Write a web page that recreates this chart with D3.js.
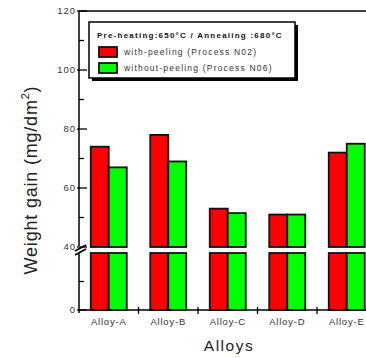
<!DOCTYPE html>
<html><head><meta charset="utf-8">
<script src="https://cdn.jsdelivr.net/npm/d3@7"></script>
<style>
body{margin:0;background:#fff;}
svg{display:block;font-family:"Liberation Sans",Arial,sans-serif;}
</style></head>
<body><svg id="c" width="366" height="358"></svg>
<script>
const categories = ["Alloy-A","Alloy-B","Alloy-C","Alloy-D","Alloy-E"];
const seriesNames = ["with-peeling (Process N02)","without-peeling (Process N06)"];
const withPeeling = [74, 78, 53, 51, 72];
const withoutPeeling = [67, 69, 51.5, 51, 75];
const upperMajor = [40, 60, 80, 100, 120];
const upperMinor = [50, 70, 90, 110];
const lowerMajor = [0];
const lowerMinor = [20];
const legendTitle = "Pre-heating:650\u00B0C / Annealing :680\u00B0C";
const yTitle = "Weight gain (mg/dm";
const xTitle = "Alloys";
const colors = ["#ff0000", "#00ff00"];

const svg = d3.select("#c");
const x0 = 79, xEnd = 366;
const x = d3.scaleBand().domain(categories).range([x0, x0 + 5 * 59.5]).padding(0);
const yU = d3.scaleLinear().domain([40, 120]).range([247, 11]);
const yL = d3.scaleLinear().domain([0, 40]).range([310, 253]);
const barW = 18;
const series = [withPeeling, withoutPeeling];

// bars
series.forEach((vals, si) => {
  const g = svg.append("g");
  categories.forEach((c, i) => {
    const bx = x(c) + x.bandwidth() / 2 - barW + si * barW;
    g.append("rect").attr("x", bx).attr("y", yU(vals[i]))
      .attr("width", barW).attr("height", yU(40) - yU(vals[i]))
      .attr("fill", colors[si]).attr("stroke", "#111").attr("stroke-width", 1.8);
    g.append("rect").attr("x", bx).attr("y", yL(40))
      .attr("width", barW).attr("height", yL(0) - yL(40))
      .attr("fill", colors[si]).attr("stroke", "#111").attr("stroke-width", 1.8);
  });
});

// frame top line
svg.append("line").attr("x1", x0).attr("x2", xEnd).attr("y1", yU(120)).attr("y2", yU(120))
  .attr("stroke", "#000").attr("stroke-width", 1.5);
// y axis segments
svg.append("line").attr("x1", x0).attr("x2", x0).attr("y1", yU(120)).attr("y2", 246)
  .attr("stroke", "#000").attr("stroke-width", 1.5);
svg.append("line").attr("x1", x0).attr("x2", x0).attr("y1", 253).attr("y2", 313)
  .attr("stroke", "#000").attr("stroke-width", 1.5);
// x axis
svg.append("line").attr("x1", x0).attr("x2", xEnd).attr("y1", yL(0)).attr("y2", yL(0))
  .attr("stroke", "#000").attr("stroke-width", 1.5);
// break marks
[0, 4].forEach(d => {
  svg.append("line").attr("x1", 75).attr("y1", 251 + d).attr("x2", 86).attr("y2", 245 + d)
    .attr("stroke", "#000").attr("stroke-width", 1.8);
});

// y ticks
function ticks(scale, major, minor) {
  major.forEach(v => {
    svg.append("line").attr("x1", x0 - 2).attr("x2", x0 + 8).attr("y1", scale(v)).attr("y2", scale(v))
      .attr("stroke", "#000").attr("stroke-width", 1.3);
    svg.append("text").attr("x", x0 - 3).attr("y", scale(v)).attr("dy", "0.35em")
      .attr("text-anchor", "end").attr("font-size", 9.5).attr("letter-spacing", 1)
      .attr("fill", "#333").text(v);
  });
  minor.forEach(v => {
    svg.append("line").attr("x1", x0).attr("x2", x0 + 5).attr("y1", scale(v)).attr("y2", scale(v))
      .attr("stroke", "#000").attr("stroke-width", 1.3);
  });
}
ticks(yU, upperMajor, upperMinor);
ticks(yL, lowerMajor, lowerMinor);

// x ticks at band boundaries
categories.slice(1).forEach(c => {
  svg.append("line").attr("x1", x(c)).attr("x2", x(c)).attr("y1", yL(0) - 3).attr("y2", yL(0) + 4)
    .attr("stroke", "#000").attr("stroke-width", 1.3);
});
categories.forEach(c => {
  svg.append("text").attr("x", x(c) + x.bandwidth() / 2).attr("y", 325)
    .attr("text-anchor", "middle").attr("font-size", 9.5).attr("letter-spacing", 0.8)
    .attr("fill", "#333").text(c);
});

// axis titles
svg.append("text").attr("x", 229).attr("y", 351).attr("text-anchor", "middle")
  .attr("font-size", 15.5).attr("letter-spacing", 1.5).attr("fill", "#222").text(xTitle);
const yt = svg.append("text").attr("transform", "translate(37,180) rotate(-90)")
  .attr("text-anchor", "middle").attr("font-size", 18).attr("letter-spacing", 0.8).attr("fill", "#222");
yt.append("tspan").text(yTitle);
yt.append("tspan").attr("font-size", 11).attr("dy", -8).text("2");
yt.append("tspan").attr("dy", 8).text(")");

// legend
const lx = 89, ly = 22, lw = 206, lh = 56;
svg.append("rect").attr("x", lx + 3).attr("y", ly + 3).attr("width", lw).attr("height", lh).attr("fill", "#000");
svg.append("rect").attr("x", lx).attr("y", ly).attr("width", lw).attr("height", lh)
  .attr("fill", "#fff").attr("stroke", "#000").attr("stroke-width", 1.5);
svg.append("text").attr("x", 97).attr("y", 37.5).attr("font-size", 8).attr("font-weight", "bold")
  .attr("letter-spacing", 1.24).attr("fill", "#111").text(legendTitle);
seriesNames.forEach((n, i) => {
  const yy = 47 + i * 16;
  svg.append("rect").attr("x", 99).attr("y", yy).attr("width", 18).attr("height", 10)
    .attr("fill", colors[i]).attr("stroke", "#111").attr("stroke-width", 1.8);
  svg.append("text").attr("x", 124).attr("y", yy + 5).attr("dy", "0.35em").attr("font-size", 8.5)
    .attr("letter-spacing", 1.2).attr("fill", "#333").text(n);
});
</script></body></html>
